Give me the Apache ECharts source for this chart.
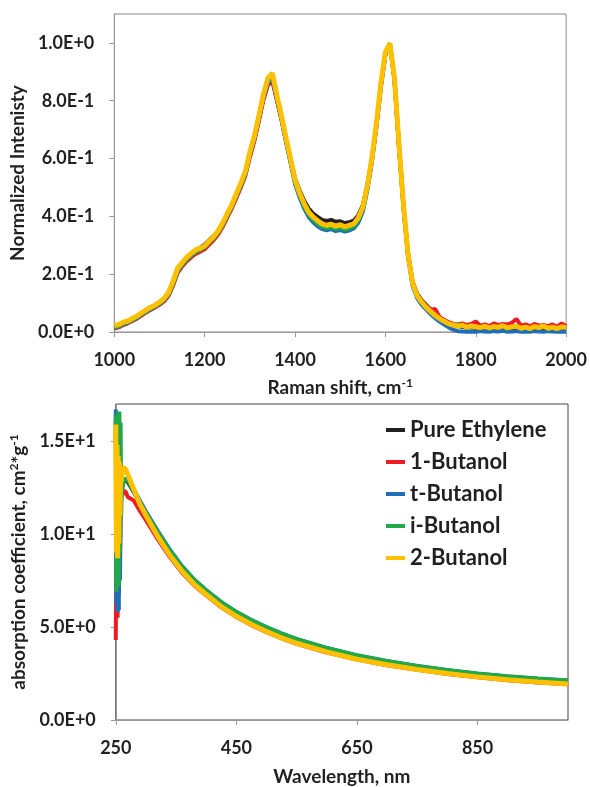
<!DOCTYPE html>
<html>
<head>
<meta charset="utf-8">
<script src="https://cdn.jsdelivr.net/npm/echarts@6/dist/echarts.min.js"></script>
<style>html,body{margin:0;padding:0;background:#fff;}#c{width:590px;height:787px;}</style>
</head>
<body>
<div id="c"></div>
<script>
// ---------- Raman spectra (top) ----------
const ramanShift = [1000,1010,1020,1030,1040,1050,1060,1070,1080,1090,1100,1110,1120,1130,1140,1150,1160,1170,1180,1190,
1200,1210,1220,1230,1240,1250,1260,1270,1280,1290,1300,1310,1320,1330,1340,1350,1360,1370,1380,1390,
1400,1410,1420,1430,1440,1450,1460,1470,1480,1490,1500,1510,1520,1530,1540,1550,1560,1570,1580,1590,
1600,1610,1620,1630,1640,1650,1660,1670,1680,1690,1700,1710,1720,1730,1740,1750,1760,1770,1780,1790,
1800,1810,1820,1830,1840,1850,1860,1870,1880,1890,1900,1910,1920,1930,1940,1950,1960,1970,1980,1990,2000];

const ramanPureEthylene = [0.018,0.022,0.030,0.036,0.044,0.052,0.062,0.072,0.081,0.090,0.099,0.111,0.131,0.168,0.212,0.234,0.252,0.268,0.280,0.292,
0.302,0.318,0.332,0.349,0.374,0.405,0.434,0.471,0.507,0.548,0.612,0.668,0.736,0.808,0.860,0.872,0.806,0.740,0.668,0.600,
0.530,0.490,0.455,0.428,0.410,0.398,0.388,0.384,0.388,0.381,0.383,0.377,0.380,0.385,0.404,0.438,0.508,0.600,0.716,0.852,
0.962,0.996,0.874,0.642,0.436,0.272,0.175,0.133,0.110,0.094,0.078,0.063,0.050,0.040,0.031,0.025,0.020,0.018,0.015,0.017,
0.014,0.012,0.016,0.011,0.014,0.012,0.016,0.010,0.013,0.015,0.010,0.012,0.009,0.014,0.011,0.015,0.010,0.013,0.009,0.012,0.011];

const raman1Butanol = [0.012,0.016,0.024,0.030,0.038,0.046,0.057,0.067,0.076,0.085,0.094,0.106,0.125,0.160,0.204,0.226,0.244,0.258,0.270,0.278,
0.286,0.302,0.318,0.337,0.364,0.396,0.427,0.463,0.500,0.540,0.604,0.660,0.730,0.802,0.855,0.866,0.800,0.734,0.660,0.590,
0.518,0.476,0.440,0.411,0.393,0.380,0.370,0.365,0.369,0.362,0.366,0.360,0.364,0.370,0.390,0.426,0.498,0.592,0.712,0.850,
0.960,0.995,0.876,0.648,0.440,0.274,0.172,0.130,0.108,0.090,0.076,0.080,0.052,0.042,0.034,0.028,0.026,0.030,0.024,0.028,
0.036,0.022,0.026,0.020,0.030,0.024,0.028,0.026,0.032,0.045,0.022,0.026,0.020,0.028,0.022,0.024,0.020,0.026,0.018,0.030,0.020];

const ramanTButanol = [0.015,0.019,0.027,0.033,0.041,0.049,0.060,0.070,0.079,0.088,0.097,0.110,0.130,0.166,0.210,0.232,0.250,0.265,0.277,0.286,
0.296,0.312,0.327,0.346,0.372,0.403,0.434,0.470,0.506,0.546,0.612,0.668,0.738,0.810,0.864,0.876,0.806,0.736,0.658,0.586,
0.512,0.466,0.428,0.398,0.380,0.366,0.356,0.352,0.356,0.349,0.353,0.347,0.351,0.358,0.378,0.416,0.490,0.586,0.706,0.848,
0.960,0.997,0.874,0.640,0.430,0.262,0.160,0.118,0.095,0.078,0.062,0.048,0.036,0.026,0.016,0.008,0.003,0.002,0.001,0.002,
0.001,0.003,0.002,0.001,0.003,0.002,0.004,0.001,0.002,0.003,0.001,0.002,0.001,0.003,0.002,0.001,0.003,0.002,0.001,0.002,0.001];

const ramanIButanol = [0.016,0.020,0.028,0.034,0.042,0.050,0.061,0.071,0.080,0.089,0.098,0.111,0.131,0.166,0.211,0.232,0.250,0.264,0.276,0.284,
0.293,0.309,0.324,0.343,0.370,0.402,0.433,0.470,0.508,0.548,0.614,0.671,0.742,0.815,0.868,0.882,0.810,0.740,0.664,0.592,
0.518,0.474,0.436,0.406,0.388,0.375,0.364,0.359,0.363,0.356,0.360,0.354,0.358,0.365,0.386,0.424,0.498,0.594,0.714,0.856,
0.966,0.999,0.878,0.646,0.436,0.268,0.166,0.124,0.101,0.083,0.068,0.055,0.044,0.035,0.027,0.022,0.026,0.020,0.018,0.022,
0.016,0.014,0.019,0.013,0.017,0.015,0.020,0.013,0.016,0.019,0.012,0.016,0.011,0.018,0.014,0.020,0.012,0.016,0.011,0.017,0.015];

const raman2Butanol = [0.022,0.026,0.034,0.038,0.047,0.055,0.066,0.076,0.085,0.093,0.103,0.116,0.137,0.175,0.220,0.240,0.258,0.272,0.284,0.290,
0.298,0.315,0.330,0.350,0.378,0.410,0.440,0.478,0.515,0.555,0.622,0.678,0.748,0.822,0.878,0.895,0.818,0.748,0.672,0.600,
0.526,0.482,0.445,0.415,0.398,0.385,0.374,0.369,0.373,0.366,0.371,0.364,0.369,0.374,0.395,0.432,0.505,0.600,0.720,0.860,
0.968,0.998,0.880,0.650,0.440,0.270,0.170,0.127,0.104,0.086,0.071,0.058,0.046,0.037,0.029,0.024,0.020,0.024,0.016,0.021,
0.018,0.015,0.020,0.014,0.019,0.016,0.022,0.014,0.018,0.020,0.013,0.017,0.012,0.019,0.015,0.021,0.013,0.017,0.012,0.018,0.016];

// ---------- Absorption coefficient (bottom) ----------
const wavelength = [250,251,252,253,254,255,256,257,258,259,260,261,262,264,266,270,280,290,300,320,340,360,380,400,425,450,475,500,525,550,600,650,700,750,800,850,900,950,1000];

const absPureEthylene = [16.2,7.2,15.8,6.6,16.2,6.8,14.5,8.5,13.0,12.2,12.6,12.5,12.8,12.9,12.9,12.8,12.25,11.65,11.1,10.05,9.05,8.2,7.5,6.94,6.3,5.78,5.34,4.96,4.62,4.32,3.84,3.45,3.13,2.88,2.66,2.47,2.32,2.2,2.1];
const abs1Butanol = [4.3,10.0,12.5,5.5,11.5,7.0,12.0,8.8,12.0,11.8,12.3,12.1,12.3,12.4,12.3,12.0,11.8,11.25,10.75,9.7,8.75,7.92,7.24,6.7,6.06,5.54,5.1,4.72,4.39,4.1,3.63,3.25,2.95,2.7,2.48,2.3,2.14,2.02,1.92];
const absTButanol = [16.7,6.2,16.3,5.8,16.0,5.9,13.0,7.5,12.2,12.0,12.5,12.4,12.7,12.9,13.0,12.95,12.4,11.8,11.22,10.15,9.15,8.28,7.56,6.98,6.34,5.81,5.37,4.99,4.65,4.35,3.87,3.47,3.16,2.9,2.68,2.49,2.34,2.22,2.12];
const absIButanol = [16.4,6.9,15.5,7.5,16.6,7.2,16.6,9.0,16.0,11.0,12.6,12.3,12.8,12.9,13.0,12.9,12.3,11.7,11.15,10.1,9.1,8.25,7.55,6.98,6.34,5.82,5.38,5.0,4.66,4.36,3.88,3.48,3.17,2.91,2.69,2.5,2.35,2.23,2.13];
const abs2Butanol = [15.9,9.0,14.8,8.7,14.2,9.5,13.9,11.0,13.4,12.8,13.5,13.2,13.6,13.7,13.5,13.2,12.4,11.6,11.0,9.85,8.85,8.0,7.3,6.75,6.1,5.58,5.14,4.76,4.42,4.13,3.66,3.27,2.97,2.72,2.5,2.32,2.16,2.04,1.94];

const seriesNames = ['Pure Ethylene','1-Butanol','t-Butanol','i-Butanol','2-Butanol'];
const seriesColors = ['#231f20','#ed1c24','#1f6fb8','#21a84a','#ffc000'];
const ramanSets = [ramanPureEthylene, raman1Butanol, ramanTButanol, ramanIButanol, raman2Butanol];
const absSets = [absPureEthylene, abs1Butanol, absTButanol, absIButanol, abs2Butanol];
const wavelengthTicks = [250,450,650,850];

const FONT = 'Lato';
const TXT = '#231f20';
const sciFmt = v => v.toExponential(1).replace('e','E');
const plainFmt = v => String(v);
const pair = (xs, ys) => xs.map((x,i)=>[x, ys[i]]);

const series = [];
ramanSets.forEach((d,i)=>{
  series.push({name: seriesNames[i], type:'line', xAxisIndex:0, yAxisIndex:0, data: pair(ramanShift,d),
    showSymbol:false, symbol:'none', lineStyle:{width: i===4?5:4, color: seriesColors[i]}, itemStyle:{color: seriesColors[i]}, animation:false});
});
absSets.forEach((d,i)=>{
  series.push({name: seriesNames[i], type:'line', xAxisIndex:1, yAxisIndex:1, data: pair(wavelength,d),
    showSymbol:false, symbol:'none', lineStyle:{width: i===4?5:4, color: seriesColors[i]}, itemStyle:{color: seriesColors[i]}, animation:false});
});

const labelStyle = {color: TXT, fontFamily: FONT, fontWeight:'bold', fontSize:18};
const nameStyle = {color: TXT, fontFamily: FONT, fontWeight:'bold', fontSize:19};
const richName = {
  a: {color: TXT, fontFamily: FONT, fontWeight:'bold', fontSize:19},
  s: {color: TXT, fontFamily: FONT, fontWeight:'bold', fontSize:12, padding:[0,0,10,0]}
};

const chart = echarts.init(document.getElementById('c'), null, {renderer:'canvas'});
chart.setOption({
  animation:false,
  backgroundColor:'#fff',
  grid:[
    {left:113, top:14, width:455, height:318, show:true, borderColor:'#8a8a8a', borderWidth:1},
    {left:113, top:404, width:455, height:318, show:true, borderColor:'#444', borderWidth:1}
  ],
  legend:{
    data: seriesNames, orient:'vertical', left:381, top:414, icon:'rect',
    itemWidth:19, itemHeight:4, itemGap:10,
    textStyle:{color: TXT, fontFamily: FONT, fontWeight:'bold', fontSize:22, lineHeight:22}
  },
  xAxis:[
    {gridIndex:0, type:'value', min:1000, max:2000, interval:200,
      axisLine:{lineStyle:{color:'#999'}}, axisTick:{inside:false, length:5, lineStyle:{color:'#999'}},
      splitLine:{show:false}, axisLabel:{...labelStyle, margin:19, formatter: plainFmt},
      name:'{a|Raman shift, cm}{s|-1}', nameLocation:'middle', nameGap:45, nameTextStyle:{...nameStyle, rich: richName}},
    {gridIndex:1, type:'value', min:250, max:1000,
      axisLine:{lineStyle:{color:'#999'}},
      axisTick:{inside:false, length:5, lineStyle:{color:'#999'}, customValues: wavelengthTicks},
      splitLine:{show:false}, axisLabel:{...labelStyle, margin:19, formatter: plainFmt, customValues: wavelengthTicks},
      name:'Wavelength, nm', nameLocation:'middle', nameGap:47, nameTextStyle: nameStyle}
  ],
  yAxis:[
    {gridIndex:0, type:'value', min:0, max:1.1, interval:0.2,
      axisLine:{show:true, lineStyle:{color:'#999'}}, axisTick:{show:true, length:5, lineStyle:{color:'#999'}},
      splitLine:{show:false}, axisLabel:{...labelStyle, margin:20, formatter: sciFmt, showMaxLabel:false},
      name:'Normalized Intenisty', nameLocation:'middle', nameGap:80, nameTextStyle: nameStyle},
    {gridIndex:1, type:'value', min:0, max:17, interval:5,
      axisLine:{show:true, lineStyle:{color:'#999'}}, axisTick:{show:true, length:5, lineStyle:{color:'#999'}},
      splitLine:{show:false}, axisLabel:{...labelStyle, margin:20, formatter: sciFmt, showMaxLabel:false},
      name:'{a|absorption coefficient, cm}{s|2}{a|*g}{s|-1}', nameLocation:'middle', nameGap:80, nameTextStyle:{...nameStyle, rich: richName}}
  ],
  series: series
});
</script>
</body>
</html>
